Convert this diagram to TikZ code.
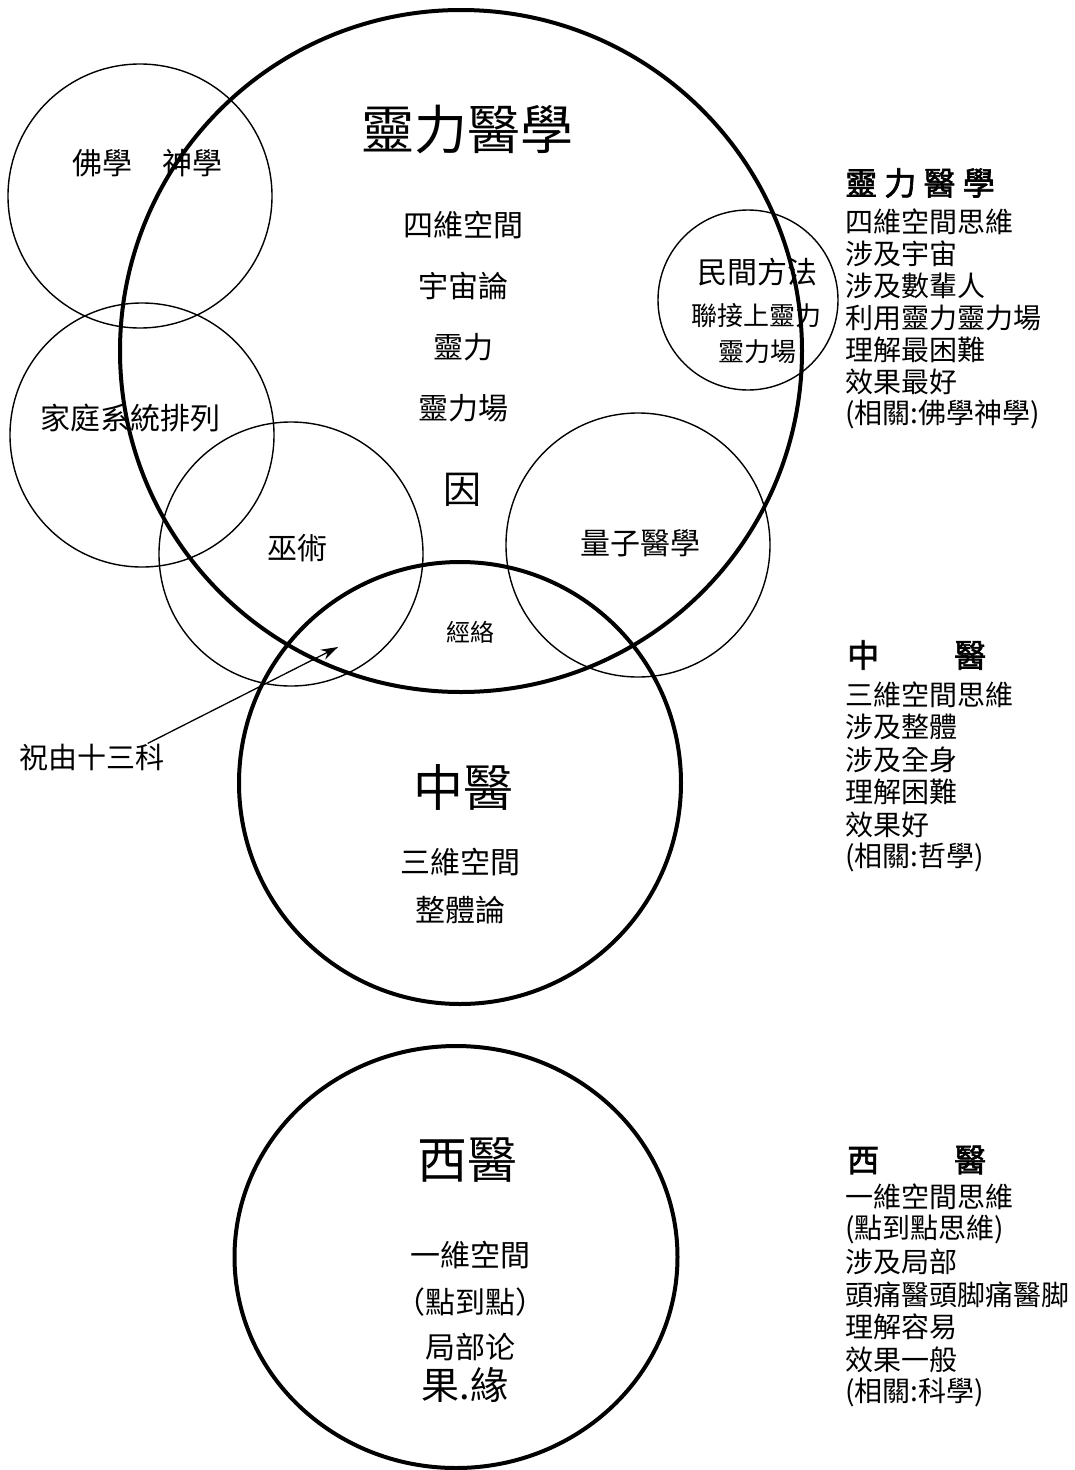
\documentclass[tikz,border=0pt]{standalone}
\usepackage{fontspec}
\setmainfont{Noto Sans CJK TC}
\newfontfamily\hdfont[FakeBold=2]{Noto Sans CJK TC}
\usetikzlibrary{arrows.meta}
\newcommand\sz[1]{\fontsize{#1}{#1}\selectfont}
\begin{document}
\begin{tikzpicture}[x=1pt,y=-1pt,
    ring/.style={line width=1.4pt},
    bigring/.style={line width=4pt},
    txt/.style={inner sep=0pt,font=\sz{#1}},txt/.default=30,
    side/.style={anchor=west,inner sep=0pt,font=\sz{28}},
    head/.style={anchor=west,inner sep=0pt,font=\hdfont\sz{32}}]
\useasboundingbox(0,0)rectangle(1074,1470);
% circles
\coordinate(ling)at(461,351);
\coordinate(fo)at(140,196);
\coordinate(jia)at(142,435);
\coordinate(wu)at(291,554);
\coordinate(liangzi)at(638,545);
\coordinate(minjian)at(748,300);
\coordinate(zhong)at(460,783);
\coordinate(xi)at(456,1257);
\draw[bigring](ling)circle[radius=341pt];
\foreach\c/\r in{fo/132,jia/132,wu/132,liangzi/132,minjian/90}
    \draw[ring](\c)circle[radius=\r pt];
\draw[bigring](zhong)circle[radius=221pt];
\draw[bigring](xi)ellipse[x radius=221.5pt,y radius=211pt];
% labels in the circles
\node[txt=53](linghead)at(467,130){靈力醫學};
\foreach\t[count=\i from 0]in{四維空間,宇宙論,靈力,靈力場}
    \node[txt](ling\i)at(463,225+61*\i){\t};
\node[txt=38](yin)at(462,490){因};
\node[txt=24](jingluo)at(470,632){經絡};
\node[txt](wushu)at(297,548){巫術};
\node[txt](lz)at(640,543){量子醫學};
\node[txt](foxue)at(147,163){佛學　神學};
\node[txt](jiating)at(130,418){家庭系統排列};
\node[txt](mj0)at(757,272){民間方法};
\node[txt=26](mj1)at(756,316){聯接上靈力};
\node[txt=26](mj2)at(757,352){靈力場};
\node[txt=50](zhonghead)at(463,787){中醫};
\node[txt](zh1)at(460,862){三維空間};
\node[txt](zh2)at(460,910){整體論};
\node[txt=50](xihead)at(467,1160){西醫};
\node[txt](xi1)at(470,1255){一維空間};
\node[txt](xi2)at(470,1302){（點到點）};
\node[txt](xi3)at(470,1347){局部论};
\node[txt=38](guoyuan)at(465,1385){果.緣};
% arrow
\node[txt=29](zhuyou)at(92,757){祝由十三科};
\coordinate(zhuyoutip)at(338,647);
\draw[line width=1.3pt,-{Stealth[length=17pt,width=11pt]}]([xshift=-17pt]zhuyou.north east)--(zhuyoutip);
% right column
\node[head](h1)at(845,183){靈 力 醫 學};
\foreach\t[count=\i from 0]in{四維空間思維,涉及宇宙,涉及數輩人,利用靈力靈力場,理解最困難,效果最好,{(相關:佛學神學)}}
    \node[side]at(845,222+32*\i){\t};
\node[head](h2)at(847,655){中\hspace{75pt}醫};
\foreach\t[count=\i from 0]in{三維空間思維,涉及整體,涉及全身,理解困難,效果好,{(相關:哲學)}}
    \node[side]at(845,695+32.4*\i){\t};
\node[head](h3)at(847,1160){西\hspace{75pt}醫};
\foreach\t[count=\i from 0]in{一維空間思維,{(點到點思維)},涉及局部,頭痛醫頭脚痛醫脚,理解容易,效果一般,{(相關:科學)}}
    \node[side]at(845,1197+32.5*\i){\t};
\end{tikzpicture}
\end{document}
